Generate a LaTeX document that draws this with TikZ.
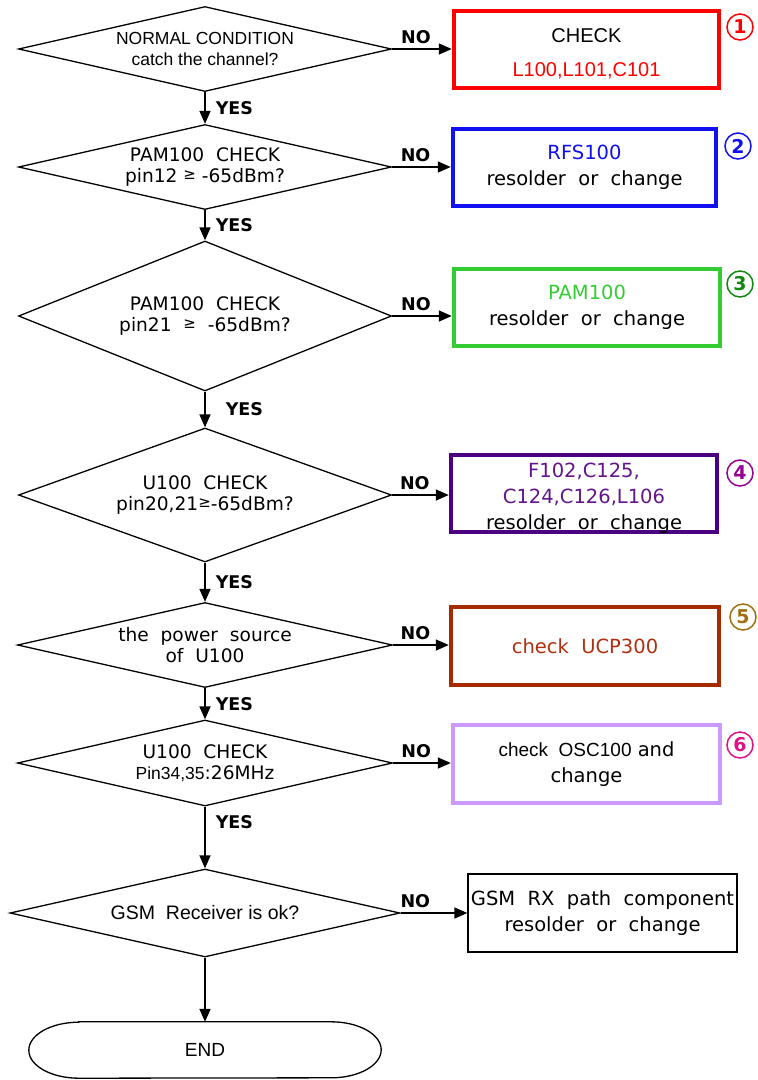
\documentclass[tikz,border=0pt]{standalone}
\usepackage{fontspec}
\setmainfont{DejaVu Sans}
\newfontfamily\tahfont{Liberation Sans}
\usetikzlibrary{shapes.geometric,arrows.meta}
\definecolor{cred}{RGB}{255,0,0}
\definecolor{cblue}{RGB}{16,16,240}
\definecolor{cgreen}{RGB}{51,204,51}
\definecolor{cdgreen}{RGB}{17,136,17}
\definecolor{cpurp}{RGB}{75,0,130}
\definecolor{cpurptxt}{RGB}{100,20,140}
\definecolor{cpurpnum}{RGB}{150,0,150}
\definecolor{cbrown}{RGB}{165,42,0}
\definecolor{cbrowntxt}{RGB}{176,48,16}
\definecolor{cgold}{RGB}{160,112,16}
\definecolor{clilac}{RGB}{204,153,255}
\definecolor{cmag}{RGB}{221,17,136}
\newcommand\decfont{\fontsize{18.6}{21}\selectfont}
\newcommand\boxfont{\fontsize{19.5}{26}\selectfont}
\newcommand\geqsmall{{\fontsize{15}{15}\selectfont\raisebox{3pt}{≥}}}
\begin{document}
\begin{tikzpicture}[x=1pt,y=-1pt,
  dec/.style={diamond, draw, line width=1.3pt, inner sep=0pt},
  dtext/.style={align=center, inner sep=0pt, font=\decfont},
  cbox/.style={rectangle, draw, line width=4.5pt, inner sep=0pt, align=center, font=\boxfont},
  arr/.style={line width=1.6pt, -{Triangle[length=13pt,width=11pt]}},
  yes/.style={anchor=west, inner sep=0pt, font=\fontsize{17.5}{17.5}\selectfont\bfseries},
  no/.style={above=4pt, inner sep=0pt, font=\fontsize{17.5}{17.5}\selectfont\bfseries},
  num/.style={circle, draw, line width=1.5pt, inner sep=0pt, minimum size=26pt, font=\fontsize{19}{19}\selectfont\bfseries}
]
\useasboundingbox (0,0) rectangle (758,1080);
\fill[white] (0,0) rectangle (758,1080);

% decisions
\node[dec, minimum width=373pt, minimum height=85pt] (d1) at (205,49) {};
\node[dtext, font=\tahfont\fontsize{17.5}{21}\selectfont] (t1) at (d1.center) {NORMAL CONDITION\\catch the channel?};
\node[dec, minimum width=373pt, minimum height=85pt] (d2) at (205,167) {};
\node[dtext] (t2) at (d2.center) {PAM100\ \ CHECK\\pin12 \geqsmall\ -65dBm?};
\node[dec, minimum width=373pt, minimum height=150pt] (d3) at (205,316) {};
\node[dtext] (t3) at (d3.center) {PAM100\ \ CHECK\\pin21 \ \geqsmall\ \ -65dBm?};
\node[dec, minimum width=373pt, minimum height=134pt] (d4) at (205,495) {};
\node[dtext] (t4) at (d4.center) {U100\ \ CHECK\\pin20,21\geqsmall-65dBm?};
\node[dec, minimum width=375pt, minimum height=85pt] (d5) at (205,645) {};
\node[dtext] (t5) at (d5.center) {the\ \ power\ \ source\\of\ \ U100};
\node[dec, minimum width=375pt, minimum height=86pt] (d6) at (205,763) {};
\node[dtext] (t6) at (d6.center) {U100\ \ CHECK\\{\tahfont\fontsize{17.5}{21}\selectfont Pin34,35}:26MHz};
\node[dec, minimum width=390pt, minimum height=88pt] (d7) at (205,913) {};
\node[dtext, font=\tahfont\fontsize{19.5}{21}\selectfont] (t7) at (d7.center) {GSM\ \ Receiver\ is\ ok?};

% end terminator
\node[minimum width=352pt, minimum height=56pt, inner sep=0pt, font=\tahfont\fontsize{19}{21}\selectfont] (end) at (205,1050) {END};
\draw[line width=1.3pt] ([xshift=50pt]end.north west) -- ([xshift=-50pt]end.north east)
  arc[start angle=90, end angle=-90, x radius=50pt, y radius=28pt]
  -- ([xshift=50pt]end.south west)
  arc[start angle=270, end angle=90, x radius=50pt, y radius=28pt] -- cycle;

% boxes
\node[cbox, draw=cred, minimum width=265pt, minimum height=77pt] (b1) at (586.5,49.5) {};
\node[align=center, inner sep=0pt, font=\tahfont\fontsize{20}{26}\selectfont] (t1b) at (586.5,54)
  {CHECK\\[8pt]{\color{cred}L100,L101,C101}};
\node[cbox, draw=cblue, minimum width=263pt, minimum height=77pt] (b2) at (584.5,167.5)
  {{\color{cblue}RFS100}\\resolder\ \ or\ \ change};
\node[cbox, draw=cgreen, minimum width=266pt, minimum height=77pt] (b3) at (587,307.5)
  {{\color{cgreen}PAM100}\\resolder\ \ or\ \ change};
\node[cbox, draw=cpurp, minimum width=266pt, minimum height=77pt] (b4) at (584,493.5) {};
\node[align=center, inner sep=0pt, font=\boxfont] (t4b) at (584,498)
  {{\color{cpurptxt}F102,C125,}\\{\color{cpurptxt}C124,C126,L106}\\resolder\ \ or\ \ change};
\node[cbox, draw=cbrown, minimum width=268pt, minimum height=78pt] (b5) at (585,646)
  {\raisebox{-4pt}{\color{cbrowntxt}check\ \ UCP300}};
\node[cbox, draw=clilac, minimum width=267pt, minimum height=78pt] (b6) at (586.5,764)
  {{\tahfont\fontsize{19}{26}\selectfont check\ \ OSC100} and\\change};
\node[rectangle, draw, line width=1.3pt, inner sep=0pt, align=center, font=\boxfont,
  minimum width=269pt, minimum height=78pt] (b7) at (602.5,913)
  {GSM\ \ RX\ \ path\ \ component\\resolder\ \ or\ \ change};

% numbers
\node[num, draw=cred, text=cred] (c1) at (740,27) {1};
\node[num, draw=cblue, text=cblue] (c2) at (738,146) {2};
\node[num, draw=cdgreen, text=cdgreen] (c3) at (740,284) {3};
\node[num, draw=cpurpnum, text=cpurpnum] (c4) at (740,473) {4};
\node[num, draw=cgold, text=cgold] (c5) at (743,617) {5};
\node[num, draw=cmag, text=cmag] (c6) at (740,745) {6};

% YES connectors
\draw[arr] (d1.south) -- node[yes, xshift=10pt] {YES} (d2.north);
\draw[arr] (d2.south) -- node[yes, xshift=10pt] {YES} (d3.north);
\draw[arr] (d3.south) -- node[yes, xshift=20pt] {YES} (d4.north);
\draw[arr] (d4.south) -- node[yes, xshift=10pt] {YES} (d5.north);
\draw[arr] (d5.south) -- node[yes, xshift=10pt] {YES} (d6.north);
\draw[arr] (d6.south) -- node[pos=0.25, yes, xshift=10pt] {YES} (d7.north);
\draw[arr] (d7.south) -- (end.north);

% NO connectors
\draw[arr] (d1.east) -- node[no, pos=0.4] {NO} (d1.east -| b1.west);
\draw[arr] (d2.east) -- node[no, pos=0.4] {NO} (d2.east -| b2.west);
\draw[arr] (d3.east) -- node[no, pos=0.4] {NO} (d3.east -| b3.west);
\draw[arr] (d4.east) -- node[no, pos=0.4] {NO} (d4.east -| b4.west);
\draw[arr] (d5.east) -- node[no, pos=0.4] {NO} (d5.east -| b5.west);
\draw[arr] (d6.east) -- node[no, pos=0.4] {NO} (d6.east -| b6.west);
\draw[arr] (d7.east) -- node[no, pos=0.22] {NO} (d7.east -| b7.west);
\end{tikzpicture}
\end{document}
